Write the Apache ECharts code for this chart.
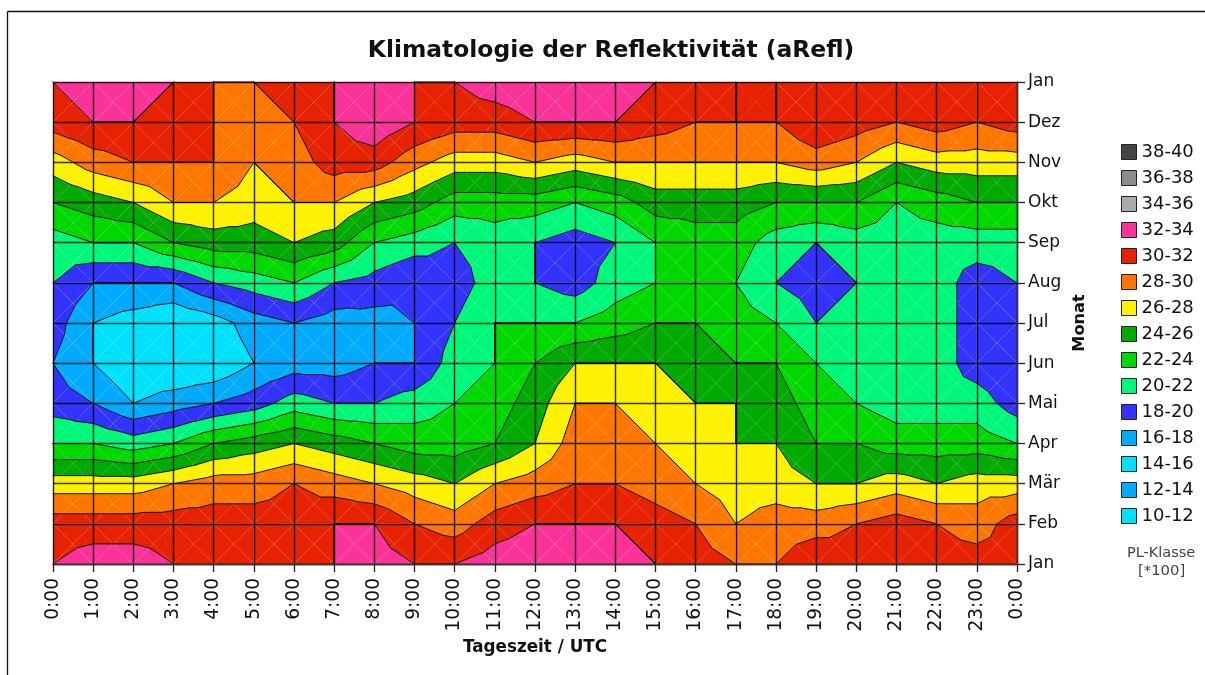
<!DOCTYPE html>
<html><head><meta charset="utf-8">
<style>html,body{margin:0;padding:0;background:#fff}#c{width:1205px;height:675px}</style>
<script src="https://cdn.jsdelivr.net/npm/echarts@6/dist/echarts.min.js"></script>
</head><body><div id="c"></div>
<script>
// Tick labels
const hourLabels = ['0:00','1:00','2:00','3:00','4:00','5:00','6:00','7:00','8:00','9:00','10:00','11:00','12:00','13:00','14:00','15:00','16:00','17:00','18:00','19:00','20:00','21:00','22:00','23:00','0:00'];
const monthLabels = ['Jan','Dez','Nov','Okt','Sep','Aug','Jul','Jun','Mai','Apr','Mär','Feb','Jan'];
// Band classes
const classLabels = ['10-12','12-14','14-16','16-18','18-20','20-22','22-24','24-26','26-28','28-30','30-32','32-34','34-36','36-38','38-40'];
const classLows   = [10,12,14,16,18,20,22,24,26,28,30,32,34,36,38];
const classColors = ['#00e1ff','#00aaff','#00e1ff','#00aaff','#3333ff','#00f87a','#00d800','#00aa00','#fff200','#ff7700','#e62200','#fb3399','#aaaaaa','#8c8c8c','#444444'];
// Reflectivity per hour, rows from the top Jan down to the bottom Jan
const h00 = [32,31,27,24,21,20,19,18,19,22,27,31,32];
const h01 = [33,32,29,25,22,18,16,16,18,22,27,31,33];
const h02 = [33,32,30,26,22,18,15,14.2,16,21,27,31,33];
const h03 = [32,31,30,28,24,18,14,14,17,22,28,31,32];
const h04 = [30,30,30,28,25,20,15,14.2,18,24,29,31,31];
const h05 = [30,29,28,27,25,21,17,16,19,25,29,31,31];
const h06 = [31,30,29,28,26,22,18,17,21,26,30,31,31];
const h07 = [32,32,31,28,25,20,17,17,20,25,29,32,32];
const h08 = [33,33.5,31,26,22,19.2,17.2,18,20,24,28,32,33];
const h09 = [32,32,28.7,25,21,18,18,18,21,23,27,30,32];
const h10 = [32,31,27,23,20,19,20,21,22,23,26,29,32];
const h11 = [33,31,27,23,21,21,22,22,23,24,28,31,33];
const h12 = [33.5,32,28,23,20,20,22,24,25,26,29,32,33.5];
const h13 = [33.5,32,27,22,19,19,22,26,28,29,30,32,33.5];
const h14 = [33,32,28,23,20,21,23,26,28,29,30,32,33];
const h15 = [32,31,28,25,22,22,24,26,27,28,29,31,32];
const h16 = [31,30,28,25,23,23,24,25,26,27,28,30,31];
const h17 = [30,30,28,25,23,22,23,24,26,26,27,28,30];
const h18 = [30,30,28,24,21,20,22,24,25,26,27,29,30];
const h19 = [31,31.9,29,24,20,19,20,22,23,24,26,29,31.9];
const h20 = [31,31,28,24,21,20,21,21,22,24,26,30,31];
const h21 = [31,30,26,22,21,21,21,21,21,23,27,31,31];
const h22 = [31,31,27,23,21,21,21,21,21,23,26,30,31];
const h23 = [31,30,27,24,21,19,19,19,21,23,27,29,31];
const h24 = [31,31,27,24,21,20,19,18,19,22,27,31,31];
const columns = [h00,h01,h02,h03,h04,h05,h06,h07,h08,h09,h10,h11,h12,h13,h14,h15,h16,h17,h18,h19,h20,h21,h22,h23,h24];

// Split each cell into four triangles round its centre
const triangles = [];
for (let i = 0; i < columns.length - 1; i++) {
  for (let j = 0; j < monthLabels.length - 1; j++) {
    const a = [i, j, columns[i][j]], b = [i + 1, j, columns[i + 1][j]],
          c = [i + 1, j + 1, columns[i + 1][j + 1]], d = [i, j + 1, columns[i][j + 1]];
    const m = [i + .5, j + .5, (a[2] + b[2] + c[2] + d[2]) / 4];
    triangles.push([a, b, m], [b, c, m], [c, d, m], [d, a, m]);
  }
}
function cross(p, q, L) {
  const t = (L - p[2]) / (q[2] - p[2]);
  return [p[0] + t * (q[0] - p[0]), p[1] + t * (q[1] - p[1]), L];
}
function clip(poly, L, keepAbove) {
  const out = [];
  for (let k = 0; k < poly.length; k++) {
    const p = poly[k], q = poly[(k + 1) % poly.length];
    const pin = keepAbove ? p[2] >= L : p[2] <= L, qin = keepAbove ? q[2] >= L : q[2] <= L;
    if (pin) out.push(p);
    if (pin !== qin) out.push(cross(p, q, L));
  }
  return out;
}
function area(poly) {
  let s = 0;
  for (let k = 0; k < poly.length; k++) {
    const p = poly[k], q = poly[(k + 1) % poly.length];
    s += p[0] * q[1] - q[0] * p[1];
  }
  return Math.abs(s) / 2;
}
function bandPolygons(lo, hi) {
  const res = [];
  for (const t of triangles) {
    const p = clip(clip(t, lo, true), hi, false);
    if (p.length >= 3 && area(p) > 1e-6) res.push(p);
  }
  return res;
}
const lastX = columns.length - 1, lastY = monthLabels.length - 1;
function onBorder(p, q) {
  return (p[0] === q[0] && (p[0] === 0 || p[0] === lastX)) || (p[1] === q[1] && (p[1] === 0 || p[1] === lastY));
}
function contourSegments(L) {
  const res = [];
  for (const t of triangles) {
    if (t[0][2] === L && t[1][2] === L && t[2][2] === L) continue;
    const pts = [];
    for (let k = 0; k < 3; k++) {
      const p = t[k], q = t[(k + 1) % 3];
      if (p[2] === L && q[2] === L) { if (!onBorder(p, q)) res.push([p, q]); }
      else if ((p[2] >= L) !== (q[2] >= L)) pts.push(cross(p, q, L));
    }
    if (pts.length === 2 && (Math.abs(pts[0][0] - pts[1][0]) + Math.abs(pts[0][1] - pts[1][1]) > 1e-6)) res.push(pts);
  }
  return res;
}
const bandSeries = classLabels.map((name, idx) => {
  const polys = bandPolygons(classLows[idx], classLows[idx] + 2);
  return {
    type: 'custom', name, coordinateSystem: 'cartesian2d', z: 2, silent: true, animation: false,
    itemStyle: {color: classColors[idx]},
    data: polys.map((p, i) => [p[0][0], p[0][1], i]),
    renderItem: (params, api) => ({
      type: 'polygon',
      shape: {points: polys[params.dataIndex].map(pt => api.coord([pt[0], pt[1]]))},
      style: {fill: classColors[idx], stroke: null}
    })
  };
});
const segments = classLows.concat([40]).flatMap(contourSegments);
const contourSeries = {
  type: 'custom', name: 'Isolinien', coordinateSystem: 'cartesian2d', z: 3, silent: true, animation: false,
  data: segments.map((s, i) => [s[0][0], s[0][1], i]),
  renderItem: (params, api) => {
    const s = segments[params.dataIndex], a = api.coord([s[0][0], s[0][1]]), b = api.coord([s[1][0], s[1][1]]);
    return {type: 'line', shape: {x1: a[0], y1: a[1], x2: b[0], y2: b[1]}, style: {stroke: '#111', lineWidth: 1, lineCap: 'round'}};
  }
};

const chart = echarts.init(document.getElementById('c'), null, {renderer: 'canvas'});
const font = '"DejaVu Sans", Verdana, sans-serif';
chart.setOption({
  animation: false,
  backgroundColor: '#fff',
  title: {text: 'Klimatologie der Reflektivität (aRefl)', left: 606, top: 34, textAlign: 'center',
    textStyle: {fontFamily: font, fontSize: 23.4, fontWeight: 'bold', color: '#111'}},
  grid: {left: 53, right: 188, top: 82, bottom: 111, containLabel: false},
  xAxis: {type: 'value', min: 0, max: 24, interval: 1, position: 'bottom', z: 10,
    name: 'Tageszeit / UTC', nameLocation: 'middle', nameGap: 65,
    nameTextStyle: {fontFamily: font, fontSize: 16.8, fontWeight: 'bold', color: '#111'},
    axisLine: {onZero: false, lineStyle: {color: '#333', width: 1.3}},
    axisTick: {length: 8, lineStyle: {color: '#222', width: 1.3}},
    splitLine: {show: true, lineStyle: {color: 'rgba(0,0,0,0.85)', width: 1.4}},
    axisLabel: {rotate: 90, margin: 14, fontFamily: font, fontSize: 18.6, color: '#111', hideOverlap: false,
      showMinLabel: true, showMaxLabel: true, formatter: v => hourLabels[v]}},
  yAxis: {type: 'value', min: 0, max: 12, interval: 1, inverse: true, position: 'right', z: 10,
    name: 'Monat', nameLocation: 'middle', nameGap: 50, nameRotate: 90,
    nameTextStyle: {fontFamily: font, fontSize: 16.2, fontWeight: 'bold', color: '#111'},
    axisLine: {onZero: false, show: true, lineStyle: {color: '#333', width: 1.3}},
    axisTick: {show: true, length: 8, lineStyle: {color: '#222', width: 1.3}},
    splitLine: {show: true, lineStyle: {color: 'rgba(0,0,0,0.8)', width: 1.4}},
    axisLabel: {margin: 11, fontFamily: font, fontSize: 17, color: '#111', hideOverlap: false, padding: [6, 0, 0, 0],
      showMinLabel: true, showMaxLabel: true, formatter: v => monthLabels[v]}},
  legend: {orient: 'vertical', left: 1116, top: 138, itemWidth: 15, itemHeight: 15, itemGap: 8, icon: 'rect',
    selectedMode: false, align: 'left',
    textStyle: {fontFamily: font, fontSize: 18, lineHeight: 15, color: '#111'},
    itemStyle: {borderColor: '#222', borderWidth: 1},
    data: classLabels.map((name, i) => ({name, itemStyle: {color: classColors[i], borderColor: '#222', borderWidth: 1}})).reverse()},
  series: bandSeries.concat([contourSeries]),
  graphic: [
    {type: 'line', shape: {x1: 7.5, y1: 11.5, x2: 7.5, y2: 675}, style: {stroke: '#111', lineWidth: 1.3}, silent: true},
    {type: 'line', shape: {x1: 7.5, y1: 11.5, x2: 1205, y2: 11.5}, style: {stroke: '#111', lineWidth: 1.3}, silent: true},
    {type: 'text', left: 1127, top: 546, silent: true, style: {text: 'PL-Klasse', fontFamily: font, fontSize: 14.5, fill: '#444'}},
    {type: 'text', left: 1138, top: 564, silent: true, style: {text: '[*100]', fontFamily: font, fontSize: 14.8, fill: '#444'}}
  ]
});
</script></body></html>
